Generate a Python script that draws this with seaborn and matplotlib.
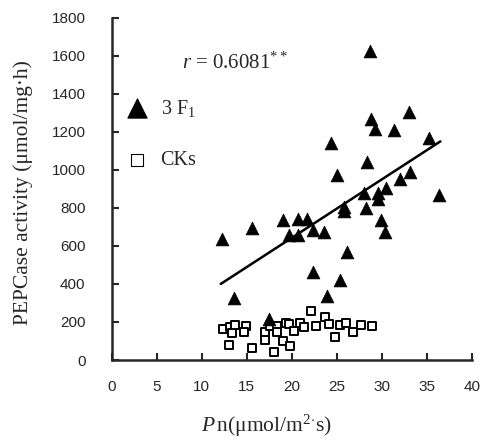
import matplotlib
matplotlib.use("Agg")
import matplotlib.pyplot as plt
import seaborn as sns
import pandas as pd

# 3 F1 hybrids: Pn vs PEPCase activity
f1_pn = [12.2, 13.6, 15.6, 17.5, 19.0, 19.7, 20.7, 20.7, 21.7, 22.3, 22.4, 23.6,
         23.9, 24.4, 25.0, 25.4, 25.8, 25.8, 26.1, 28.0, 28.2, 28.4, 28.7, 28.8,
         29.2, 29.6, 29.6, 29.9, 30.4, 30.5, 31.3, 32.0, 33.0, 33.1, 35.2, 36.4]
f1_pep = [635, 325, 695, 214, 735, 658, 658, 743, 740, 462, 684, 675,
          335, 1140, 972, 420, 807, 782, 570, 880, 800, 1039, 1623, 1267,
          1214, 880, 845, 737, 672, 904, 1211, 951, 1307, 991, 1167, 868]

# CKs
ck_pn = [12.3, 13.1, 13.3, 13.7, 13.0, 14.9, 14.7, 15.6, 17.0, 17.0, 17.6, 18.0,
         18.4, 18.3, 19.0, 19.3, 19.7, 19.8, 20.2, 20.9, 21.4, 22.1, 22.7, 23.7,
         24.1, 24.8, 25.3, 26.0, 26.8, 27.7, 28.9]
ck_pep = [161, 172, 144, 184, 79, 179, 149, 61, 149, 107, 178, 44,
          180, 146, 100, 194, 189, 74, 154, 196, 172, 260, 177, 225,
          191, 121, 184, 195, 149, 184, 179]

# fitted line for F1 (endpoints)
fit_pn = [12.1, 36.5]
fit_pep = [400, 1150]

x_ticks = [0, 5, 10, 15, 20, 25, 30, 35, 40]
y_ticks = [0, 200, 400, 600, 800, 1000, 1200, 1400, 1600, 1800]

sns.set_style("ticks")
plt.rcParams["font.family"] = ["Liberation Sans", "DejaVu Sans"]
plt.rcParams["mathtext.fontset"] = "custom"
plt.rcParams["mathtext.rm"] = "Liberation Serif"
plt.rcParams["mathtext.it"] = "Liberation Serif:italic"

df_f1 = pd.DataFrame({"pn": f1_pn, "pep": f1_pep})
df_ck = pd.DataFrame({"pn": ck_pn, "pep": ck_pep})
df_fit = pd.DataFrame({"pn": fit_pn, "pep": fit_pep})

fig = plt.figure(figsize=(4.86, 4.45), dpi=100)
ax = fig.add_axes([0.23, 0.191, 0.741, 0.769])

sns.lineplot(data=df_fit, x="pn", y="pep", color="black", linewidth=1.8, ax=ax)
sns.scatterplot(data=df_ck, x="pn", y="pep", marker="s", s=36, facecolor="white",
                edgecolor="black", linewidth=1.4, label="CKs", ax=ax, zorder=3)
sns.scatterplot(data=df_f1, x="pn", y="pep", marker="^", s=85, color="black",
                edgecolor="black", linewidth=0.5, label="3 F$_1$", ax=ax, zorder=4)

ax.set_xlim(0, 40)
ax.set_ylim(0, 1800)
ax.set_xticks(x_ticks)
ax.set_yticks(y_ticks)
ax.tick_params(direction="in", length=5, width=1.5, labelsize=11)
ax.tick_params(axis="y", pad=19)
ax.tick_params(axis="x", pad=14.5)
for s in ["left", "bottom"]:
    ax.spines[s].set_linewidth(1.8)
sns.despine(ax=ax)

ax.set_xlabel(r"$P\,$n($\mathrm{\mu}$mol/m$^2$$^{\cdot}$s)", fontsize=15.5,
              family="Liberation Serif")
ax.set_ylabel("PEPCase activity (μmol/mg·h)", fontsize=15.5, family="Liberation Serif")
ax.xaxis.set_label_coords(0.43, -0.155)
ax.yaxis.set_label_coords(-0.218, 0.49)

ax.text(7.8, 1563, r"$r$ = 0.6081$^{**}$", fontsize=15, family="Liberation Serif",
        va="center", ha="left")

handles, labels = ax.get_legend_handles_labels()
order = [labels.index("3 F$_1$"), labels.index("CKs")]
leg = ax.legend([handles[i] for i in order], [labels[i] for i in order],
                loc="upper left", bbox_to_anchor=(-0.035, 0.82), frameon=False,
                labelspacing=1.62, handletextpad=0.15, markerscale=1.5,
                prop={"family": "Liberation Serif", "size": 14.5})
for h in leg.legend_handles:
    h.set_linewidth(0.8)

fig.savefig("out.png", dpi=100)
